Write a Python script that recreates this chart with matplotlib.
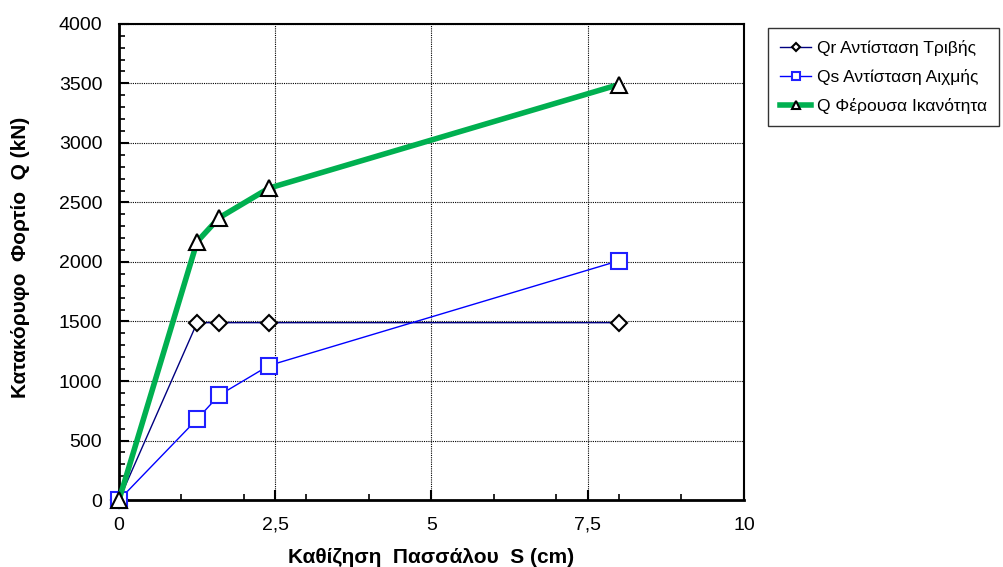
import matplotlib
matplotlib.use("Agg")
import matplotlib.pyplot as plt
from matplotlib.ticker import MultipleLocator, FuncFormatter

plt.rcParams['font.family'] = ['Liberation Sans', 'DejaVu Sans']

# settlement S (cm)
s = [0, 1.25, 1.6, 2.4, 8.0]
# loads (kN)
qr = [0, 1490, 1490, 1490, 1490]
qs = [0, 680, 880, 1130, 2010]
q = [0, 2170, 2370, 2620, 3490]

labels = ["Qr Αντίσταση Τριβής", "Qs Αντίσταση Αιχμής", "Q Φέρουσα Ικανότητα"]

fig = plt.figure(figsize=(10.04, 5.67), dpi=100)
ax = fig.add_axes([0.1185, 0.118, 0.6225, 0.84])

ax.plot(s, qr, color="#000080", lw=1, marker="D", ms=8, mfc="white",
        mec="black", mew=1.5, label=labels[0], zorder=3, clip_on=False)
ax.plot(s, qs, color="#0000ff", lw=1, marker="s", ms=11, mfc="white",
        mec="#2020ff", mew=1.5, label=labels[1], zorder=4, clip_on=False)
ax.plot(s, q, color="#00b050", lw=4, marker="^", ms=12, mfc="white",
        mec="black", mew=1.5, label=labels[2], zorder=5, clip_on=False)

ax.set_xlim(0, 10)
ax.set_ylim(0, 4000)
ax.xaxis.set_major_locator(MultipleLocator(2.5))
ax.xaxis.set_minor_locator(MultipleLocator(1))
ax.yaxis.set_major_locator(MultipleLocator(500))
ax.yaxis.set_minor_locator(MultipleLocator(100))
ax.xaxis.set_major_formatter(FuncFormatter(lambda v, p: f"{v:g}".replace(".", ",")))
ax.tick_params(which="major", direction="in", length=7, width=1.5, labelsize=14, pad=12)
ax.tick_params(which="minor", direction="in", length=4, width=1.2)
for sp in ax.spines.values():
    sp.set_linewidth(1.5)
for sp in ["left", "bottom"]:
    ax.spines[sp].set_linewidth(2)
ax.grid(True, which="major", color="black", ls=(0, (1, 1)), lw=0.8)

ax.set_xlabel("Καθίζηση  Πασσάλου  S (cm)", fontsize=15, fontweight="bold")
ax.set_ylabel("Κατακόρυφο  Φορτίο  Q (kN)", fontsize=15, fontweight="bold")
ax.xaxis.set_label_coords(0.5, -0.1)
ax.yaxis.set_label_coords(-0.142, 0.51)

leg = ax.legend(loc="upper left", bbox_to_anchor=(0.765, 0.951), bbox_transform=fig.transFigure,
                fontsize=12.5, markerscale=0.5, handlelength=1.8, handletextpad=0.3,
                frameon=True, fancybox=False, edgecolor="black", borderpad=0.7,
                labelspacing=0.75, borderaxespad=0)
leg.get_frame().set_linewidth(1)

fig.savefig("out.png", dpi=100)
